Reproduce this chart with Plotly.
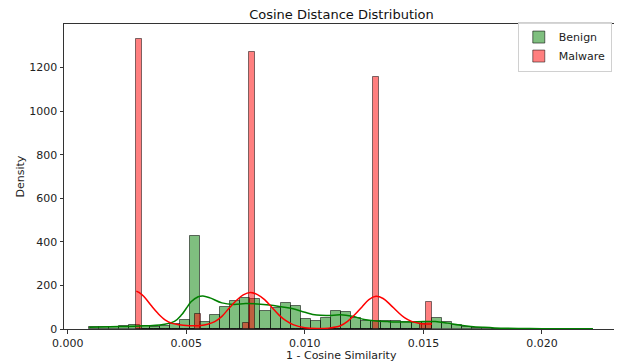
import plotly.graph_objects as go

# ---- Data ----
benign_bin_start = 0.00090
benign_bin_width = 0.000425
benign_density = [8, 9, 11, 12, 20, 15, 9, 14, 23, 42,
                  428, 32, 65, 99, 130, 141, 137, 82, 97, 118,
                  105, 44, 37, 49, 83, 76, 49, 35, 36, 36,
                  35, 33, 30, 30, 52, 30, 17, 10, 6, 3,
                  2, 1.5, 1, 1, 0.7, 0.5, 0.5, 0.3, 0.3, 0.3]

malware_bin_start = 0.00289
malware_bin_width = 0.0002494
malware_density = [1330, 0, 0, 0, 0, 0, 0, 0, 0, 0,
                   69, 0, 0, 0, 0, 0, 0, 0, 28, 1270,
                   0, 0, 0, 0, 0, 0, 0, 0, 0, 0,
                   0, 0, 0, 0, 0, 0, 0, 0, 0, 0,
                   1155, 0, 0, 0, 0, 0, 0, 0, 25, 125]

benign_kde_x = [0.00090, 0.00177, 0.00248, 0.00325, 0.00388, 0.00450, 0.00480, 0.00500,
                0.00520, 0.00550, 0.00570, 0.00600, 0.00650, 0.00700, 0.00750, 0.00800,
                0.00850, 0.00900, 0.00950, 0.01000, 0.01050, 0.01100, 0.01150, 0.01200,
                0.01250, 0.01300, 0.01350, 0.01400, 0.01450, 0.01500, 0.01550, 0.01600,
                0.01650, 0.01700, 0.01750, 0.01800, 0.01900, 0.02000, 0.02100, 0.02215]
benign_kde_y = [8, 10, 12, 15, 18, 35, 65, 95,
                125, 148, 152, 143, 120, 113, 117, 115,
                110, 102, 93, 77, 64, 62, 65, 58,
                44, 37, 34, 32, 32, 34, 34, 27,
                18, 12, 8, 5, 2.5, 1.5, 1, 0.7]

malware_kde_x = [0.00289, 0.0030, 0.0032, 0.0035, 0.0038, 0.0041, 0.0044, 0.0047, 0.0050,
                 0.0053, 0.0056, 0.0059, 0.0062, 0.0065, 0.0068, 0.0071, 0.0074, 0.0077,
                 0.0080, 0.0083, 0.0086, 0.0089, 0.0092, 0.0095, 0.0100, 0.0105, 0.0110,
                 0.0115, 0.0118, 0.0121, 0.0124, 0.0127, 0.0130, 0.0133, 0.0136, 0.0139,
                 0.0142, 0.0145, 0.0148, 0.0151, 0.01536]
malware_kde_y = [174, 168, 150, 110, 72, 42, 26, 20, 16,
                 15, 16, 22, 34, 58, 95, 130, 157, 168,
                 158, 135, 100, 65, 38, 20, 6, 2, 4,
                 15, 35, 65, 100, 135, 150, 140, 112, 80,
                 52, 35, 26, 23, 23]

x_ticks = [0.000, 0.005, 0.010, 0.015, 0.020]
y_ticks = [0, 200, 400, 600, 800, 1000, 1200]

# ---- Derived bar centers ----
benign_x = [benign_bin_start + (i + 0.5) * benign_bin_width for i in range(len(benign_density))]
malware_x = [malware_bin_start + (i + 0.5) * malware_bin_width for i in range(len(malware_density))]

fig = go.Figure()

fig.add_trace(go.Bar(
    x=benign_x, y=benign_density, width=benign_bin_width, name="Benign",
    marker=dict(color="rgba(0,128,0,0.5)", line=dict(color="rgba(0,0,0,0.55)", width=1)),
))
fig.add_trace(go.Scatter(
    x=benign_kde_x, y=benign_kde_y, mode="lines", line=dict(color="rgb(0,128,0)", width=1.5, shape="spline"),
    showlegend=False, hoverinfo="skip",
))
fig.add_trace(go.Bar(
    x=malware_x, y=malware_density, width=malware_bin_width, name="Malware",
    marker=dict(color="rgba(255,0,0,0.5)", line=dict(color="rgba(0,0,0,0.5)", width=1)),
))
fig.add_trace(go.Scatter(
    x=malware_kde_x, y=malware_kde_y, mode="lines", line=dict(color="rgb(255,0,0)", width=1.5, shape="spline"),
    showlegend=False, hoverinfo="skip",
))

font_family = "DejaVu Sans, Liberation Sans, sans-serif"

# The page has an 8px body margin, so the figure is sized to fit the window from (8, 8).
W, H = 614, 356
L, R, T, B = 56, 3, 16, 35
plot_w, plot_h = W - L - R, H - T - B

fig.update_layout(
    width=W, height=H,
    margin=dict(l=L, r=R, t=T, b=B, autoexpand=False),
    barmode="overlay", bargap=0,
    paper_bgcolor="white", plot_bgcolor="white",
    font=dict(family=font_family, size=11, color="#222"),
    title=dict(text="Cosine Distance Distribution", x=(L + W - R) / 2 / W, xanchor="center",
               y=1 - 6 / H, yanchor="middle", font=dict(size=13, color="#111")),
    legend=dict(x=0.987, y=1.008, xanchor="right", yanchor="top",
                bgcolor="rgba(255,255,255,0.8)", bordercolor="#d0d0d0", borderwidth=1,
                font=dict(size=11), itemwidth=30, tracegroupgap=0),
    showlegend=True,
    annotations=[
        dict(text="1 - Cosine Similarity", xref="paper", yref="paper", x=0.5, y=-26 / plot_h,
             xanchor="center", yanchor="middle", showarrow=False, font=dict(size=11, color="#222")),
        dict(text="Density", xref="paper", yref="paper", x=-(L - 12) / plot_w, y=0.5, textangle=-90,
             xanchor="center", yanchor="middle", showarrow=False, font=dict(size=11, color="#222")),
    ],
)
fig.update_xaxes(
    range=[-0.00016, 0.02325], tickvals=x_ticks, ticktext=[f"{v:.3f}" for v in x_ticks],
    showgrid=False, zeroline=False, showline=True, mirror=True, linecolor="#333", linewidth=1,
    ticks="outside", ticklen=3.5, tickcolor="#333", automargin=False,
)
fig.update_yaxes(
    range=[0, 1400], tickvals=y_ticks,
    showgrid=False, zeroline=False, showline=True, mirror=True, linecolor="#333", linewidth=1,
    ticks="outside", ticklen=3.5, tickcolor="#333", automargin=False,
)

fig.write_html("out.html")
